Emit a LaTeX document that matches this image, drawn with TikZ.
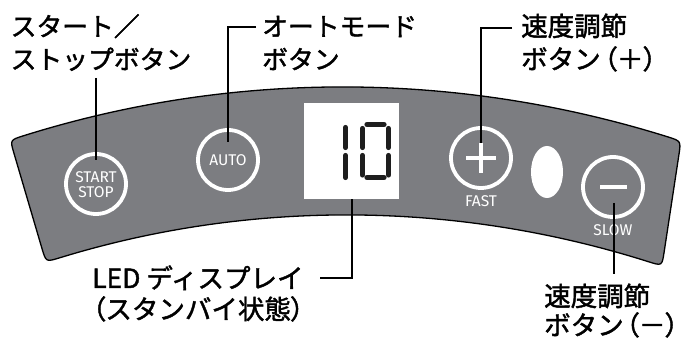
\documentclass[tikz,border=0pt]{standalone}
\usepackage{fontspec}
\usetikzlibrary{shapes.geometric}
\newfontfamily\jp[FakeBold=1.6]{Noto Sans CJK JP}
\newfontfamily\jpp[CharacterWidth=AlternateProportional,FakeBold=1.6]{Noto Sans CJK JP}
\newfontfamily\btnfont{Fira Sans}
\newcommand{\lp}{{\jpp （}}
\newcommand{\rp}{{\jpp ）}}
\definecolor{panelgray}{RGB}{124,125,129}
\definecolor{segcol}{RGB}{30,30,30}
\begin{document}
\begin{tikzpicture}[x=1pt,y=-1pt,
  lbl/.style={anchor=base west, inner sep=0pt, font=\jp\fontsize{26.5}{30}\selectfont},
  klbl/.style={lbl, font=\jp\fontsize{25.8}{30}\selectfont},
  leader/.style={draw=black, line width=1.6pt},
  btn/.style={circle, draw=white, line width=3.8pt, minimum size=60pt, inner sep=0pt},
  btnlbl/.style={text=white, inner sep=0pt, font=\btnfont\fontsize{13.5}{14}\selectfont},
  seg/.style={line width=5.2pt, line cap=round, draw=segcol},
  sign/.style={draw=white, line width=3.8pt}]
\useasboundingbox (0,0) rectangle (682,344);

% panel
\coordinate (pA) at (10,140);
\coordinate (pB) at (681,141);
\coordinate (pD) at (662,266);
\coordinate (pC) at (46,262);
\path[fill=panelgray, draw=black, line width=1.3pt]
  (14,153.4) .. controls (pA) .. (23.4,135.8)
  .. controls (233,70) and (457,71) .. (667.6,136.8)
  .. controls (pB) .. (678.9,154.8)
  -- (664.1,252.2)
  .. controls (pD) .. (648.7,261.8)
  .. controls (457,201) and (251,199) .. (59.4,257.9)
  .. controls (pC) .. (42,248.6) -- cycle;

% LED display
\node[fill=white, minimum width=95pt, minimum height=96pt, inner sep=0pt] (led) at (351.5,151) {};
\draw[seg] (345.5,127.5) -- (345.5,147.5);
\draw[seg] (345.5,155.5) -- (345.5,177.5);
\draw[seg] (362.5,128.5) -- (362.5,147.5);
\draw[seg] (362.5,155.5) -- (362.5,175);
\draw[seg] (388.5,128.5) -- (388.5,147.5);
\draw[seg] (388.5,155.5) -- (388.5,175);
\draw[seg] (367,124.5) -- (384,124.5);
\draw[seg] (367,177.5) -- (384,177.5);

% buttons
\node[btn] (startbtn) at (96,184) {};
\node[btn] (autobtn) at (228,160) {};
\node[btn] (plusbtn) at (481,158) {};
\node[btn] (minusbtn) at (613,187) {};
\node[btnlbl] (starttxt) at (96,177.5) {\scalebox{1.15}{START}};
\node[btnlbl] (stoptxt) at (96,192.5) {\scalebox{1.15}{STOP}};
\node[btnlbl] (autotxt) at (228,160) {\scalebox{1.15}{AUTO}};
\draw[sign] (481,143) -- (481,173);
\draw[sign] (466,158) -- (496,158);
\draw[sign] (600,187) -- (627,187);
\node[btnlbl] (fast) at (481,201) {\scalebox{1.15}{FAST}};
\node[btnlbl] (slow) at (613,230) {\scalebox{1.15}{SLOW}};
\node[fill=white, ellipse, minimum width=32pt, minimum height=52pt, inner sep=0pt] (oval) at (547,172) {};

% labels
\node[klbl] (ss1) at (10.5,36) {スタート／};
\node[klbl] (ss2) at (10.5,69) {ストップボタン};
\node[klbl] (au1) at (262,36) {オートモード};
\node[klbl] (au2) at (262,69) {ボタン};
\node[lbl] (fp1) at (521,36) {速度調節};
\node[lbl] (fp2) at (521,69) {ボタン\hspace{3pt}\lp＋\rp};
\node[lbl] (led1) at (92,288) {LED ディスプレイ};
\node[lbl] (led2) at (92,319) {\lp スタンバイ状態\rp};
\node[lbl] (fm1) at (544,306) {速度調節};
\node[lbl] (fm2) at (544,335) {ボタン\hspace{2pt}\lp －\rp};

% leaders
\coordinate (startTop) at (96,78);
\coordinate (startTip) at (96,160);
\draw[leader] (startTop) -- (startTip);
\coordinate (autoTop) at (256,27);
\coordinate (autoTip) at (228,142);
\draw[leader] (autoTop) -| (autoTip);
\coordinate (plusTop) at (512,28);
\coordinate (plusTip) at (481,143);
\draw[leader] (plusTop) -| (plusTip);
\coordinate (ledEnd) at (320,278);
\draw[leader] (led.south -| 352,0) |- (ledEnd);
\coordinate (minusTip) at (614,203);
\coordinate (minusEnd) at (614,274);
\draw[leader] (minusTip) -- (minusEnd);
\end{tikzpicture}
\end{document}
